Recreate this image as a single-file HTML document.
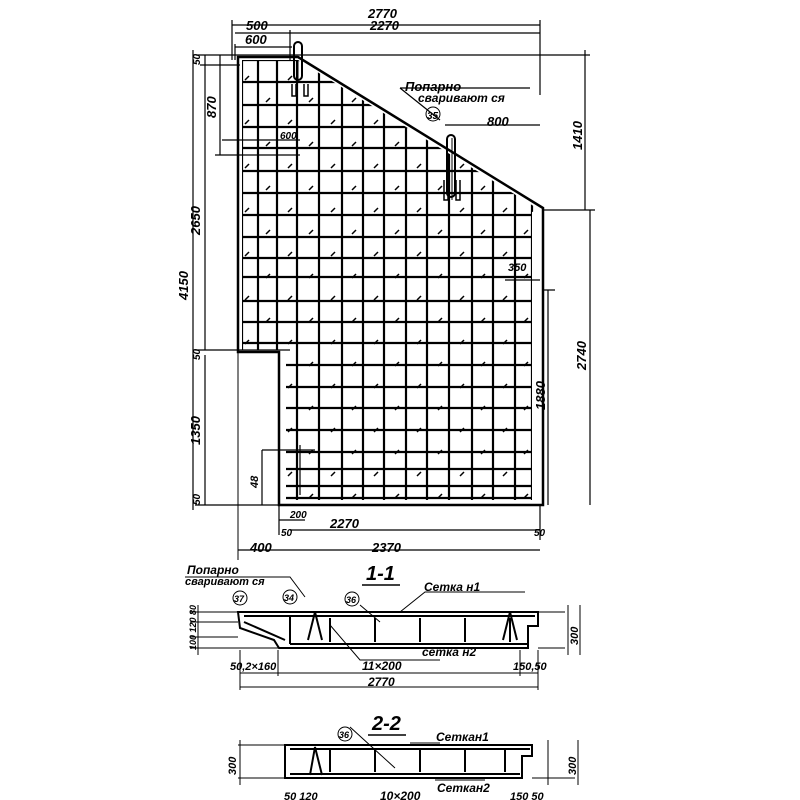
<!DOCTYPE html>
<html><head><meta charset="utf-8"><style>
html,body{margin:0;padding:0;background:#fff}
svg{display:block}
text{font-family:"Liberation Sans",sans-serif;font-style:italic;font-weight:bold;fill:#000}
</style></head><body>
<svg width="800" height="800" viewBox="0 0 800 800" xmlns="http://www.w3.org/2000/svg">
<defs>
<clipPath id="c1"><polygon points="242,60 298,60 540,210 532,212 532,500 286,500 286,350 242,350"/></clipPath>
<pattern id="tk" x="0" y="0" width="43" height="44" patternUnits="userSpaceOnUse">
<path d="M8,14l4,-4M30,36l4,-4" stroke="#000" stroke-width="1.5"/>
</pattern>
</defs>
<g stroke="#000" fill="none">
<!-- grid -->
<g clip-path="url(#c1)" stroke-width="2.2">
<path d="M242,60V500M258,60V500M277,60V500M297,60V500M319,60V500M342,60V500M363,60V500M384,60V500M406,60V500M427,60V500M449,60V500M472,60V500M493,60V500M515,60V500M532,60V500"/>
<path d="M230,60H545M230,82H545M230,105H545M230,127H545M230,148H545M230,171H545M230,193H545M230,215H545M230,237H545M230,258H545M230,277H545M230,301H545M230,322H545M230,343H545M230,365H545M230,387H545M230,408H545M230,430H545M230,452H545M230,469H545M230,486H545M230,498H545"/>
<rect x="230" y="55" width="320" height="450" fill="url(#tk)" stroke="none"/>
</g>
<!-- outline -->
<path d="M238,57H298L543,208V505H279V352H238Z" stroke-width="2.5"/>
<path d="M238,352V560" stroke-width="1"/>
<path d="M298,60V80M452,138V200" stroke-width="1"/>
<!-- loops -->
<rect x="294" y="42" width="8" height="38" rx="4" stroke-width="2"/>
<rect x="447" y="135" width="8" height="62" rx="4" stroke-width="2"/>
<path d="M292,84V96h4V84M304,84V96h4V84M444,180V200h4V180M456,180V200h4V180" stroke-width="1.5"/>
<!-- top dims -->
<g stroke-width="1.2">
<path d="M232,25H540M232,20V60M540,20V95M235,33H540M290,30V60M235,47H292M235,44V60M196,55H590M240,65H200"/>
<path d="M445,125H540M400,88H530M400,88L440,120"/>
<!-- left dims -->
<path d="M193,50V510M205,55V350M220,55V155M205,355V505M215,155H300M222,140H300M195,350H290M195,505H540M262,450V505M262,450H315M300,445V495"/>
<!-- right dims -->
<path d="M585,50V210M590,210V505M548,290V505M543,210H595M543,290H555M505,280H540"/>
<!-- bottom dims -->
<path d="M279,505V535M540,505V540M290,530H540M238,550H540M279,520H305"/>
</g>
</g>
<g font-size="13">
<text x="368" y="18">2770</text>
<text x="246" y="30">500</text>
<text x="370" y="30">2270</text>
<text x="245" y="44">600</text>
<text x="405" y="91">Попарно</text>
<text x="418" y="102" font-size="12">сваривают ся</text>
<circle cx="433" cy="114" r="7" fill="none" stroke="#000"/><text x="427" y="119" font-size="10">35</text>
<text x="487" y="126">800</text>
<text x="280" y="139" font-size="10">600</text>
<text x="508" y="271" font-size="11">350</text>
<text x="330" y="528">2270</text>
<text x="372" y="552">2370</text>
<text x="250" y="552">400</text>
<text x="281" y="536" font-size="10">50</text>
<text x="534" y="536" font-size="10">50</text>
<text x="290" y="518" font-size="10">200</text>
</g>
<g font-size="13">
<text transform="translate(188,300) rotate(-90)">4150</text>
<text transform="translate(200,235) rotate(-90)">2650</text>
<text transform="translate(216,118) rotate(-90)">870</text>
<text transform="translate(200,65) rotate(-90)" font-size="10">50</text>
<text transform="translate(200,445) rotate(-90)">1350</text>
<text transform="translate(200,360) rotate(-90)" font-size="10">50</text>
<text transform="translate(200,505) rotate(-90)" font-size="10">50</text>
<text transform="translate(258,488) rotate(-90)" font-size="11">48</text>
<text transform="translate(582,150) rotate(-90)">1410</text>
<text transform="translate(586,370) rotate(-90)">2740</text>
<text transform="translate(545,410) rotate(-90)">1880</text>
</g>
<!-- section 1-1 -->
<g stroke="#000" fill="none" stroke-width="2">
<path d="M238,612H538V626H528V648H279L274,640L240,628Z"/>
<path d="M244,616H535M290,644H528M290,616V644M330,618V642M375,618V642M420,618V642M465,618V642M510,618V642"/>
<path d="M308,640L315,612L322,640M503,640L510,612L517,640M244,622L285,640"/>
<g stroke-width="1"><path d="M190,612H238M190,622H238M190,637H238M190,648H279M198,605V655M538,612H565M538,648H565M580,605V655M568,605V655M240,650V690M538,650V690M240,673H538M240,687H538M278,650V676M520,650V676"/>
<path d="M185,577H290L305,597M330,625L360,660L440,660M380,622L360,605M525,592H425L400,612"/></g>
</g>
<circle cx="240" cy="598" r="7" fill="none" stroke="#000"/>
<circle cx="290" cy="597" r="7" fill="none" stroke="#000"/>
<circle cx="352" cy="599" r="7" fill="none" stroke="#000"/>
<g font-size="12">
<text x="366" y="580" font-size="20">1-1</text>
<path d="M362,585H400" stroke="#000" stroke-width="1.5"/>
<text x="187" y="574">Попарно</text>
<text x="185" y="585" font-size="11">сваривают ся</text>
<text x="234" y="602" font-size="9">37</text>
<text x="284" y="601" font-size="9">34</text>
<text x="346" y="603" font-size="9">36</text>
<text x="424" y="591">Сетка н1</text>
<text x="422" y="656">сетка н2</text>
<text x="230" y="670" font-size="11">50,2×160</text>
<text x="362" y="670">11×200</text>
<text x="368" y="686">2770</text>
<text x="513" y="670" font-size="11">150,50</text>
<text transform="translate(578,645) rotate(-90)" font-size="11">300</text>
<text transform="translate(196,650) rotate(-90)" font-size="9">100 120 80</text>
</g>
<!-- section 2-2 -->
<g stroke="#000" fill="none" stroke-width="2">
<path d="M285,745H532V756H522V778H285Z"/>
<path d="M290,749H530M290,774H520M330,750V772M375,750V772M420,750V772M465,750V772M505,750V772M310,775L315,747L322,775"/>
<g stroke-width="1"><path d="M238,745H285M238,778H285M240,740V785M532,778H575M578,740V785M548,740V785M440,743L410,743M350,727L395,768M435,780H485"/></g>
</g>
<circle cx="345" cy="734" r="7" fill="none" stroke="#000"/>
<g font-size="12">
<text x="372" y="730" font-size="20">2-2</text>
<path d="M368,735H406" stroke="#000" stroke-width="1.5"/>
<text x="339" y="738" font-size="9">36</text>
<text x="436" y="741">Сеткан1</text>
<text x="437" y="792">Сеткан2</text>
<text x="284" y="800" font-size="11">50 120</text>
<text x="380" y="800">10×200</text>
<text x="510" y="800" font-size="11">150 50</text>
<text transform="translate(236,775) rotate(-90)" font-size="11">300</text>
<text transform="translate(576,775) rotate(-90)" font-size="11">300</text>
</g>
</svg>
</body></html>
